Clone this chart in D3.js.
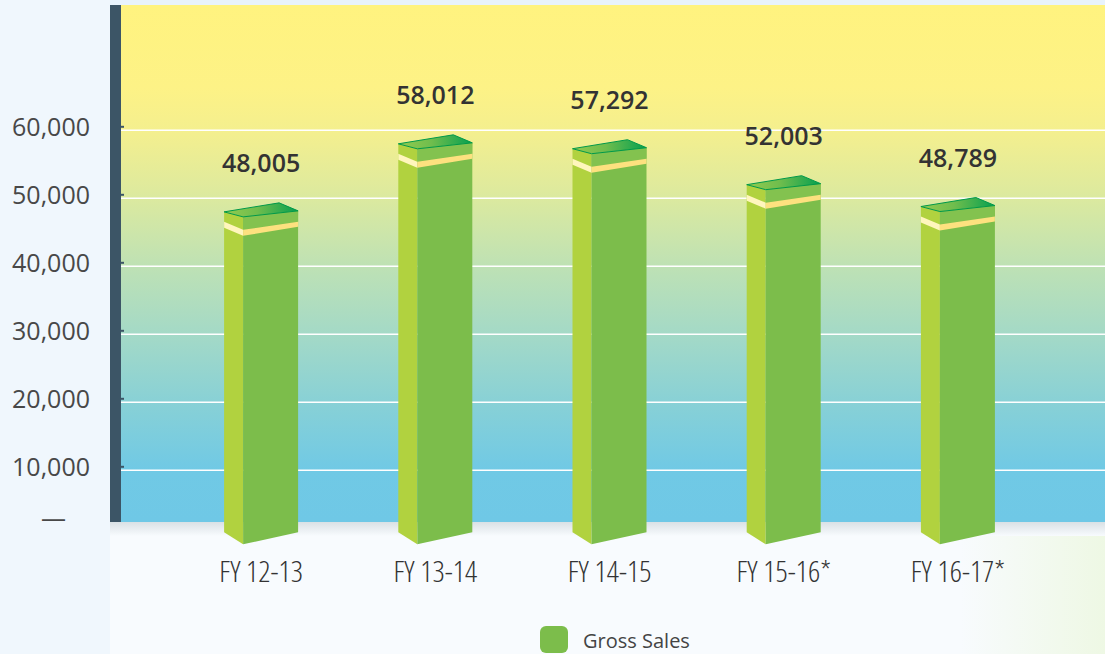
<!DOCTYPE html>
<html>
<head>
<meta charset="utf-8">
<script src="https://cdn.jsdelivr.net/npm/d3@7"></script>
<style>
    body { margin: 0; background: #f8fbfe; }
    .yLabel text { font-family: "Open Sans", sans-serif; font-weight: 400; font-size: 25px; fill: #484848; }
    .xLabel text { font-family: "Open Sans", sans-serif; font-weight: 300; font-size: 30px; fill: #333; font-stretch: 75%; }
    .valueText { font-family: "Open Sans", sans-serif; font-weight: 600; font-size: 25px; fill: #333; }
    .legendText { font-family: "Open Sans", sans-serif; font-size: 20px; fill: #444; }
</style>
</head>
<body>
<div class="chart"></div>
<script>
//Gross sales bar chart with 3D looking boxes

//Chart data
var years = ["FY 12-13", "FY 13-14", "FY 14-15", "FY 15-16*", "FY 16-17*"];
var grossSales = [48005, 58012, 57292, 52003, 48789];
var yTicks = [0, 10000, 20000, 30000, 40000, 50000, 60000];
var legendName = "Gross Sales";

//Size of svg and plot area
var svgwidth = 1105;
var svgheight = 654;

var plot = {
    left: 121,
    right: 1105,
    top: 5,
    bottom: 522
};

var svg = d3.select(".chart")
            .append("svg")
            .attr("width", svgwidth)
            .attr("height", svgheight);

//Scales
var xBandScale = d3.scaleBand()
    .domain(years)
    .range([174, 1045]);

var yLinearScale = d3.scaleLinear()
    .domain([0, 60000])
    .range([538.3, 130.3]);

//Gradients
var defs = svg.append("defs");

var bgGrad = defs.append("linearGradient")
    .attr("id", "bgGrad")
    .attr("x1", 0).attr("y1", 0).attr("x2", 0).attr("y2", 1);

[[0, "#fff37f"], [0.16, "#fdf286"], [0.25, "#f3ef8f"], [0.38, "#dae9a0"],
 [0.51, "#bde1b5"], [0.64, "#a3d9c7"], [0.78, "#86d0d7"], [0.9, "#70c9e5"], [1, "#6fc8e6"]]
    .forEach(function(s) {
        bgGrad.append("stop").attr("offset", s[0]).attr("stop-color", s[1]);
    });

var shadowGrad = defs.append("linearGradient")
    .attr("id", "shadowGrad")
    .attr("x1", 0).attr("y1", 0).attr("x2", 0).attr("y2", 1);
shadowGrad.append("stop").attr("offset", 0).attr("stop-color", "#dae1e5");
shadowGrad.append("stop").attr("offset", 1).attr("stop-color", "#f8fbfe");

var cornerGrad = defs.append("linearGradient")
    .attr("id", "cornerGrad")
    .attr("x1", 0).attr("y1", 0).attr("x2", 1).attr("y2", 0);
cornerGrad.append("stop").attr("offset", 0).attr("stop-color", "#f8fbfe");
cornerGrad.append("stop").attr("offset", 1).attr("stop-color", "#eef8e4");

var topGrad = defs.append("linearGradient")
    .attr("id", "topGrad")
    .attr("x1", 0).attr("y1", 0).attr("x2", 1).attr("y2", 0);
topGrad.append("stop").attr("offset", 0).attr("stop-color", "#93cb4f");
topGrad.append("stop").attr("offset", 0.45).attr("stop-color", "#6fbd4d");
topGrad.append("stop").attr("offset", 1).attr("stop-color", "#06a04f");

//Page background pieces
svg.append("rect")
    .attr("x", 0).attr("y", 0)
    .attr("width", svgwidth).attr("height", plot.top)
    .attr("fill", "#e8f3fc");

svg.append("rect")
    .attr("x", 0).attr("y", 0)
    .attr("width", 110).attr("height", svgheight)
    .attr("fill", "#f0f7fd");

svg.append("rect")
    .attr("x", 960).attr("y", plot.bottom)
    .attr("width", svgwidth - 960).attr("height", svgheight - plot.bottom)
    .attr("fill", "url(#cornerGrad)");

svg.append("rect")
    .attr("x", 110).attr("y", plot.bottom)
    .attr("width", svgwidth - 110).attr("height", 14)
    .attr("fill", "url(#shadowGrad)");

//Plot area
svg.append("rect")
    .attr("x", plot.left).attr("y", plot.top)
    .attr("width", plot.right - plot.left)
    .attr("height", plot.bottom - plot.top)
    .attr("fill", "url(#bgGrad)");

//Gridlines
svg.append("g")
    .selectAll("line")
    .data(yTicks.filter(d => d > 0))
    .enter()
    .append("line")
    .attr("x1", plot.left)
    .attr("x2", plot.right)
    .attr("y1", d => yLinearScale(d))
    .attr("y2", d => yLinearScale(d))
    .attr("stroke", "#ffffff")
    .attr("stroke-width", 1.5);

//Dark left axis bar with small ticks
svg.append("rect")
    .attr("x", 110).attr("y", plot.top)
    .attr("width", 11).attr("height", plot.bottom - plot.top)
    .attr("fill", "#3c5566");

var tickAxis = d3.axisRight(yLinearScale)
    .tickValues(yTicks.filter(d => d > 0))
    .tickSize(3)
    .tickFormat("");

svg.append("g")
    .attr("transform", `translate(${plot.left}, -4)`)
    .call(tickAxis)
    .call(g => g.select(".domain").remove())
    .selectAll("line")
    .attr("stroke", "#3c5566")
    .attr("stroke-width", 2);

//Y axis labels
var leftAxis = d3.axisLeft(yLinearScale)
    .tickValues(yTicks)
    .tickSize(0)
    .tickFormat(d => d === 0 ? "—" : d3.format(",")(d));

svg.append("g")
    .attr("class", "yLabel")
    .attr("transform", "translate(90, 0)")
    .call(leftAxis)
    .call(g => g.select(".domain").remove())
    .selectAll("text")
    .attr("x", 0)
    .attr("dy", "0.2em")
    .attr("transform", d => d === 0 ? "translate(-24, -17)" : null);

//X axis labels
var bottomAxis = d3.axisBottom(xBandScale).tickSize(0);

svg.append("g")
    .attr("class", "xLabel")
    .attr("transform", "translate(0, 582)")
    .call(bottomAxis)
    .call(g => g.select(".domain").remove())
    .selectAll("text")
    .attr("y", 0)
    .attr("dy", 0);

//Bars drawn as boxes
var side = 19;
var front = 55;

function barPoints(d, i, part) {
    var x0 = xBandScale(years[i]) + xBandScale.bandwidth() / 2 - (side + front) / 2;
    var yT = yLinearScale(d);
    var yB = yLinearScale(0);
    var pts;
    if (part === "left") {
        pts = [[x0, yT], [x0 + side, yT + 5], [x0 + side, yB + 6], [x0, yB - 6]];
    }
    else if (part === "front") {
        pts = [[x0 + side, yT + 5], [x0 + side + front, yT - 1], [x0 + side + front, yB - 6], [x0 + side, yB + 6]];
    }
    else if (part === "frontTop") {
        pts = [[x0 + side, yT + 5], [x0 + side + front, yT - 1], [x0 + side + front, yT + 10], [x0 + side, yT + 18]];
    }
    else if (part === "top") {
        pts = [[x0, yT], [x0 + front, yT - 9], [x0 + side + front, yT - 1], [x0 + side, yT + 5]];
    }
    else if (part === "stripeLeft") {
        pts = [[x0, yT + 10], [x0 + side, yT + 18], [x0 + side, yT + 24], [x0, yT + 16]];
    }
    else {
        pts = [[x0 + side, yT + 18], [x0 + side + front, yT + 10], [x0 + side + front, yT + 15], [x0 + side, yT + 24]];
    }
    return pts.map(p => p.join(",")).join(" ");
}

var barGroup = svg.append("g");

var parts = [
    ["left", "#b1d23f", "none"],
    ["front", "#7cbd4b", "none"],
    ["frontTop", "#83c24f", "none"],
    ["stripeLeft", "#fff6bd", "none"],
    ["stripeFront", "#fde17f", "none"],
    ["top", "url(#topGrad)", "#00994a"]
];

parts.forEach(function(p) {
    barGroup.selectAll("polygon." + p[0])
        .data(grossSales)
        .enter()
        .append("polygon")
        .attr("class", p[0])
        .attr("points", (d, i) => barPoints(d, i, p[0]))
        .attr("fill", p[1])
        .attr("stroke", p[2])
        .attr("stroke-width", 1);
});

//Value labels over each bar
svg.append("g")
    .selectAll("text")
    .data(grossSales)
    .enter()
    .append("text")
    .attr("class", "valueText")
    .attr("x", (d, i) => xBandScale(years[i]) + xBandScale.bandwidth() / 2)
    .attr("y", d => yLinearScale(d) - 40)
    .attr("text-anchor", "middle")
    .text(d => d3.format(",")(d));

//Legend
svg.append("rect")
    .attr("x", 540).attr("y", 626)
    .attr("width", 28).attr("height", 27)
    .attr("rx", 6)
    .attr("fill", "#7cbd4b");

svg.append("text")
    .attr("class", "legendText")
    .attr("x", 583)
    .attr("y", 648)
    .text(legendName);
</script>
</body>
</html>
